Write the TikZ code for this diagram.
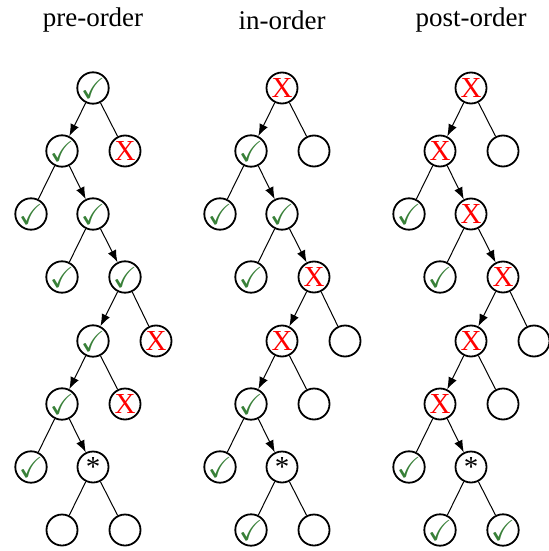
\documentclass[tikz,border=0pt]{standalone}
\usepackage{amssymb}
\usepackage{fontspec}
\setmainfont{Liberation Serif}
\usetikzlibrary{arrows.meta}
\definecolor{okgreen}{RGB}{56,128,56}
\newcommand{\ok}{\textcolor{okgreen}{$\checkmark$}}
\newcommand{\no}{\textcolor{red}{X}}
\begin{document}
\begin{tikzpicture}[x=0.5pt,y=-0.5pt, font=\fontsize{13.5}{15}\selectfont,
  vert/.style={draw,circle,line width=0.9pt,minimum size=15.5pt,inner sep=0pt,font=\fontsize{14.5}{15}\selectfont},
  walk/.style={-{Latex[length=6pt,width=4.5pt]},line width=0.5pt},
  edge/.style={line width=0.5pt}]
  \useasboundingbox (0,0) rectangle (549,551);
  % titles
  \node (tpre) at (93,20) {pre-order};
  \node (tin) at (282,20) {in-order};
  \node (tpost) at (471,20) {post-order};

  % pre-order
  \node[vert] (pa) at (93,88) {\ok};
  \node[vert] (pb) at (62,151) {\ok};
  \node[vert] (pc) at (125,151) {\no};
  \node[vert] (pd) at (31,214) {\ok};
  \node[vert] (pe) at (93,214) {\ok};
  \node[vert] (pf) at (62,277) {\ok};
  \node[vert] (pg) at (125,277) {\ok};
  \node[vert] (ph) at (93,341) {\ok};
  \node[vert] (pi) at (156,341) {\no};
  \node[vert] (pj) at (62,404) {\ok};
  \node[vert] (pk) at (125,404) {\no};
  \node[vert] (pl) at (31,467) {\ok};
  \node[vert] (pm) at (93,467) {*};
  \node[vert] (pn) at (62,530) {};
  \node[vert] (po) at (125,530) {};
  \draw[walk] (pa) -- (pb);
  \draw[edge] (pa) -- (pc);
  \draw[edge] (pb) -- (pd);
  \draw[walk] (pb) -- (pe);
  \draw[edge] (pe) -- (pf);
  \draw[walk] (pe) -- (pg);
  \draw[walk] (pg) -- (ph);
  \draw[edge] (pg) -- (pi);
  \draw[walk] (ph) -- (pj);
  \draw[edge] (ph) -- (pk);
  \draw[edge] (pj) -- (pl);
  \draw[walk] (pj) -- (pm);
  \draw[edge] (pm) -- (pn);
  \draw[edge] (pm) -- (po);

  % in-order
  \node[vert] (ia) at (282,88) {\no};
  \node[vert] (ib) at (251,151) {\ok};
  \node[vert] (ic) at (314,151) {};
  \node[vert] (id) at (220,214) {\ok};
  \node[vert] (ie) at (282,214) {\ok};
  \node[vert] (if) at (251,277) {\ok};
  \node[vert] (ig) at (314,277) {\no};
  \node[vert] (ih) at (282,341) {\no};
  \node[vert] (ii) at (345,341) {};
  \node[vert] (ij) at (251,404) {\ok};
  \node[vert] (ik) at (314,404) {};
  \node[vert] (il) at (220,467) {\ok};
  \node[vert] (im) at (282,467) {*};
  \node[vert] (in) at (251,530) {\ok};
  \node[vert] (io) at (314,530) {};
  \draw[walk] (ia) -- (ib);
  \draw[edge] (ia) -- (ic);
  \draw[edge] (ib) -- (id);
  \draw[walk] (ib) -- (ie);
  \draw[edge] (ie) -- (if);
  \draw[walk] (ie) -- (ig);
  \draw[walk] (ig) -- (ih);
  \draw[edge] (ig) -- (ii);
  \draw[walk] (ih) -- (ij);
  \draw[edge] (ih) -- (ik);
  \draw[edge] (ij) -- (il);
  \draw[walk] (ij) -- (im);
  \draw[edge] (im) -- (in);
  \draw[edge] (im) -- (io);

  % post-order
  \node[vert] (qa) at (471,88) {\no};
  \node[vert] (qb) at (440,151) {\no};
  \node[vert] (qc) at (503,151) {};
  \node[vert] (qd) at (409,214) {\ok};
  \node[vert] (qe) at (471,214) {\no};
  \node[vert] (qf) at (440,277) {\ok};
  \node[vert] (qg) at (503,277) {\no};
  \node[vert] (qh) at (471,341) {\no};
  \node[vert] (qi) at (534,341) {};
  \node[vert] (qj) at (440,404) {\no};
  \node[vert] (qk) at (503,404) {};
  \node[vert] (ql) at (409,467) {\ok};
  \node[vert] (qm) at (471,467) {*};
  \node[vert] (qn) at (440,530) {\ok};
  \node[vert] (qo) at (503,530) {\ok};
  \draw[walk] (qa) -- (qb);
  \draw[edge] (qa) -- (qc);
  \draw[edge] (qb) -- (qd);
  \draw[walk] (qb) -- (qe);
  \draw[edge] (qe) -- (qf);
  \draw[walk] (qe) -- (qg);
  \draw[walk] (qg) -- (qh);
  \draw[edge] (qg) -- (qi);
  \draw[walk] (qh) -- (qj);
  \draw[edge] (qh) -- (qk);
  \draw[edge] (qj) -- (ql);
  \draw[walk] (qj) -- (qm);
  \draw[edge] (qm) -- (qn);
  \draw[edge] (qm) -- (qo);
\end{tikzpicture}
\end{document}
